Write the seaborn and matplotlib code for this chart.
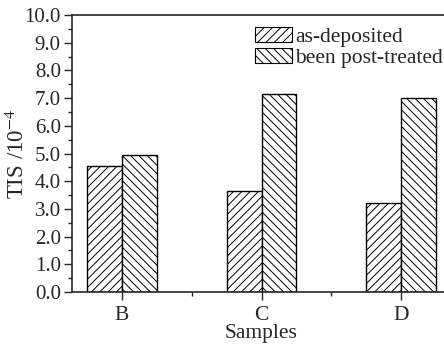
import numpy as np
import pandas as pd
import matplotlib
matplotlib.use("Agg")
import matplotlib.pyplot as plt
import seaborn as sns
from matplotlib.patches import Patch
from matplotlib.ticker import MultipleLocator, FixedLocator

samples = ["B", "C", "D"]
as_deposited = [4.55, 3.65, 3.20]
post_treated = [4.95, 7.16, 7.02]
series_names = ["as-deposited", "been post-treated"]
hatches = ["////", "\\\\\\\\"]
yticks = [0.0, 1.0, 2.0, 3.0, 4.0, 5.0, 6.0, 7.0, 8.0, 9.0, 10.0]

df = pd.DataFrame({
    "Samples": samples * 2,
    "TIS": as_deposited + post_treated,
    "cond": [series_names[0]] * 3 + [series_names[1]] * 3,
})

sns.set_style("ticks")
plt.rcParams["font.family"] = ["Liberation Serif", "DejaVu Serif"]
plt.rcParams["mathtext.fontset"] = "stix"
plt.rcParams["hatch.linewidth"] = 0.7

fig = plt.figure(figsize=(4.44, 3.45), dpi=100)
ax = fig.add_axes([0.162, 0.1536, 1.016 - 0.162, 0.9565 - 0.1536])

sns.barplot(data=df, x="Samples", y="TIS", hue="cond", hue_order=series_names,
            palette=["white", "white"], edgecolor="black", linewidth=1.0,
            width=0.5, gap=0, legend=False, ax=ax, errorbar=None)

for bars, h in zip(ax.containers, hatches):
    for p in bars:
        p.set_hatch(h)

ax.set_xlim(-0.357, 2.357)
ax.set_ylim(0, 10)
ax.set_yticks(yticks)
ax.set_yticklabels([f"{v:.1f}" for v in yticks])
ax.yaxis.set_minor_locator(MultipleLocator(0.5))
ax.xaxis.set_minor_locator(FixedLocator([0.5, 1.5]))

ax.tick_params(axis="both", which="major", direction="out", length=6, width=1.0,
               labelsize=15, pad=2)
ax.tick_params(axis="x", which="major", pad=4, labelsize=15.5)
ax.tick_params(axis="both", which="minor", direction="out", length=3, width=1.0)
ax.tick_params(top=False, right=False)
for s in ax.spines.values():
    s.set_linewidth(1.2)
    s.set_visible(True)

ax.set_xlabel("Samples", fontsize=15.5, labelpad=-1)
ax.set_ylabel("TIS /10$^{-4}$", fontsize=16.5)
ax.yaxis.set_label_coords(-0.113, 0.5)

handles = [Patch(facecolor="white", edgecolor="black", hatch=h, linewidth=0.8)
           for h in hatches]
ax.legend(handles, series_names, loc="upper left", bbox_to_anchor=(0.483, 0.955),
          frameon=False, fontsize=15.5, handlelength=1.72, handleheight=0.65,
          handletextpad=0.15, labelspacing=0.05, borderaxespad=0, borderpad=0)

fig.savefig("out.png", dpi=100)
